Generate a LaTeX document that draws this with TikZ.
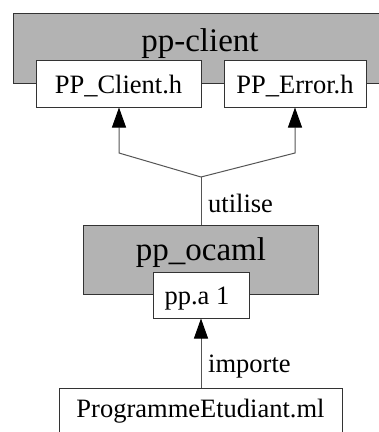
\documentclass[tikz,border=0pt]{standalone}
\usepackage{fontspec}
\setmainfont{Liberation Serif}
\newfontfamily\tnr{Liberation Serif}
\usetikzlibrary{arrows.meta}
\definecolor{boxgray}{HTML}{B3B3B3}
\definecolor{edge}{HTML}{333333}
\definecolor{conncol}{HTML}{555555}
\tikzset{
  box/.style={draw=edge, line width=1pt, rectangle, inner sep=0pt},
  graybox/.style={box, fill=boxgray},
  whitebox/.style={box, fill=white},
  bigtxt/.style={anchor=base, inner sep=0pt, text=black, font=\tnr\fontsize{33}{36}\selectfont},
  smalltxt/.style={anchor=base, inner sep=0pt, text=black, font=\tnr\fontsize{26.5}{30}\selectfont},
  conn/.style={draw=conncol, line width=1pt},
  arr/.style={conn, -{Triangle[width=14pt,length=20pt,color=black,fill=black]}}
}
\begin{document}
\begin{tikzpicture}[x=1pt,y=-1pt]
\clip (0,0) rectangle (379,432);
\fill[white] (0,0) rectangle (379,432);
% pp-client
\node[graybox, minimum width=390pt, minimum height=70pt, anchor=north west] (client) at (13,13) {};
\node[whitebox, minimum width=165pt, minimum height=47pt] (cl) at (118.5,83.5) {};
\node[whitebox, minimum width=142pt, minimum height=47pt] (er) at (295,83.5) {};
\node[bigtxt] (clientlbl) at (200,51.5) {pp-client};
\node[smalltxt] (cllbl) at (118.5,93) {PP\_Client.h};
\node[smalltxt] (erlbl) at (295,93) {PP\_Error.h};
% pp_ocaml
\node[graybox, minimum width=235pt, minimum height=69pt] (oc) at (200.5,259.5) {};
\node[whitebox, minimum width=96pt, minimum height=46pt] (ppa) at (201,295) {};
\node[bigtxt] (oclbl) at (201,260.5) {pp\_ocaml};
\node[smalltxt] (ppalbl) at (197,304) {pp.a 1};
% program
\node[whitebox, minimum width=283pt, minimum height=70pt, anchor=north west] (prog) at (59,388) {};
\node[smalltxt] (proglbl) at (200.5,417) {ProgrammeEtudiant.ml};
% connectors
\coordinate (jn) at (201,177);
\coordinate (elL) at (119,153);
\coordinate (elR) at (295,153);
\draw[conn] (oc.north -| jn) -- (jn);
\draw[arr] (jn) -- (elL) -- (elL |- cl.south);
\draw[arr] (jn) -- (elR) -- (er.south);
\draw[arr] (prog.north -| ppa.south) -- (ppa.south);
\node[smalltxt, anchor=base west] (utl) at (208,212) {utilise};
\node[smalltxt, anchor=base west] (imp) at (208,372) {importe};
\end{tikzpicture}
\end{document}
